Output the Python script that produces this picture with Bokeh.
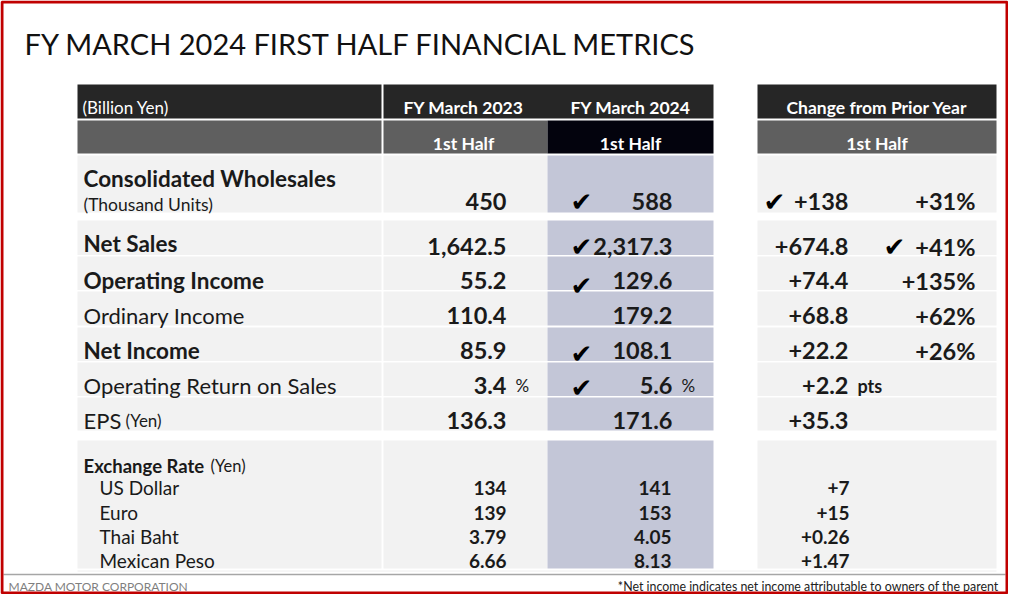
from bokeh.plotting import figure
from bokeh.models import ColumnDataSource, Range1d
from bokeh.core.properties import value
from bokeh.embed import file_html
from bokeh.resources import INLINE

# ---------------- data ----------------
title = "FY MARCH 2024 FIRST HALF FINANCIAL METRICS"
unit_label = "(Billion Yen)"
period_headers = ["FY March 2023", "FY March 2024", "Change from Prior Year"]
sub_header = "1st Half"

metrics = ["Consolidated Wholesales", "Net Sales", "Operating Income", "Ordinary Income",
           "Net Income", "Operating Return on Sales", "EPS"]
metric_bold = [True, True, True, False, True, False, False]
metric_notes = ["(Thousand Units)", "", "", "", "", "", "(Yen)"]
decimals = [0, 1, 1, 1, 1, 1, 1]
fy2023 = [450, 1642.5, 55.2, 110.4, 85.9, 3.4, 136.3]
fy2024 = [588, 2317.3, 129.6, 179.2, 108.1, 5.6, 171.6]
value_units = ["", "", "", "", "", "%", ""]
change_abs = [138, 674.8, 74.4, 68.8, 22.2, 2.2, 35.3]
change_units = ["", "", "", "", "", "pts", ""]
change_pct = [31, 41, 135, 62, 26, None, None]
check_2024 = [True, True, True, False, True, True, False]
check_abs = [True, False, False, False, False, False, False]
check_pct = [False, True, False, False, False, False, False]

fx_title = "Exchange Rate"
fx_note = "(Yen)"
currencies = ["US Dollar", "Euro", "Thai Baht", "Mexican Peso"]
fx_decimals = [0, 0, 2, 2]
fx2023 = [134, 139, 3.79, 6.66]
fx2024 = [141, 153, 4.05, 8.13]
fx_change = [7, 15, 0.26, 1.47]

footer_left = "MAZDA MOTOR CORPORATION"
footnote = "*Net income indicates net income attributable to owners of the parent"

# ---------------- layout (pixel coordinates) ----------------
FONT = "Lato"
CHECK_FONT = "DejaVu Sans"
DARK = "#1a1a1a"
COL_L = (77, 381)
COL_23 = (383, 547)
COL_24 = (547, 713)
COL_CH = (757, 996)
X_LABEL = 83
X_23 = 506
X_24 = 672
X_ABS = 848
X_PCT = 975
row_top = [155, 220, 256, 291, 327, 362, 397]
row_bot = [212, 254.5, 289.5, 325, 360.5, 395.5, 430]
label_base = [178, 243, 280, 315, 350, 385, 420]
value_base = [200.5, 246, 280, 315, 350, 385, 420]
check_base = [201, 246, 285, 0, 353, 387, 0]
fx_top, fx_bot = 440, 568
fx_base = [487, 512, 536, 560]

W, H = 1008, 594
p = figure(width=W, height=H, x_range=Range1d(0, W), y_range=Range1d(H, 0),
           output_backend="svg", toolbar_location=None, min_border=0)
p.axis.visible = False
p.grid.visible = False
p.outline_line_color = None
p.background_fill_color = "white"
p.border_fill_color = "white"


def boxes(lefts, rights, tops, bottoms, color):
    p.quad(left=lefts, right=rights, top=tops, bottom=bottoms,
           fill_color=color, line_color=None)


def txt(xs, ys, texts, size, bold=False, color=DARK, align="left", font=FONT):
    src = ColumnDataSource(dict(x=list(xs), y=list(ys), t=list(texts)))
    p.text(x="x", y="y", text="t", source=src, text_font=value(font),
           text_font_size=f"{size}px", text_font_style="bold" if bold else "normal",
           text_color=color, text_align=align, text_baseline="alphabetic")


def fmt(v, d, sign=False):
    s = f"{v:,.{d}f}"
    return ("+" + s) if sign else s


# title
txt([24], [43], [title], 29, color="#111111")

# header rows
boxes([COL_L[0], COL_23[0], COL_CH[0]], [COL_L[1], COL_24[1], COL_CH[1]],
      [84] * 3, [118] * 3, "#262626")
boxes([COL_L[0], COL_23[0], COL_CH[0]], [COL_L[1], COL_23[1], COL_CH[1]],
      [120] * 3, [153] * 3, "#5f5f5f")
boxes([COL_24[0]], [COL_24[1]], [120], [153], "#03030d")
txt([82], [107], [unit_label], 17, color="white")
hdr_x = [(COL_23[0] + COL_23[1]) / 2 - 2, (COL_24[0] + COL_24[1]) / 2, (COL_CH[0] + COL_CH[1]) / 2]
txt(hdr_x, [107] * 3, period_headers, 17.5, bold=True, color="white", align="center")
txt(hdr_x, [143] * 3, [sub_header] * 3, 17.5, bold=True, color="white", align="center")

# body row backgrounds
n = len(metrics)
boxes([COL_L[0]] * n, [COL_L[1]] * n, row_top, row_bot, "#f2f2f2")
boxes([COL_23[0]] * n, [COL_23[1]] * n, row_top, row_bot, "#f2f2f2")
boxes([COL_24[0]] * n, [COL_24[1]] * n, row_top, row_bot, "#c3c6d7")
boxes([COL_CH[0]] * n, [COL_CH[1]] * n, row_top, row_bot, "#f2f2f2")

# metric labels
bold_idx = [i for i in range(n) if metric_bold[i]]
reg_idx = [i for i in range(n) if not metric_bold[i]]
txt([X_LABEL] * len(bold_idx), [label_base[i] for i in bold_idx],
    [metrics[i] for i in bold_idx], 22.5, bold=True)
txt([X_LABEL] * len(reg_idx), [label_base[i] for i in reg_idx],
    [metrics[i] for i in reg_idx], 22)
txt([X_LABEL], [204], [metric_notes[0]], 17.5)
txt([125], [label_base[6]], [metric_notes[6]], 17)

# values
txt([X_23] * n, value_base, [fmt(v, d) for v, d in zip(fy2023, decimals)], 23.5, bold=True,
    align="right")
txt([X_24] * n, value_base, [fmt(v, d) for v, d in zip(fy2024, decimals)], 23.5, bold=True,
    align="right")
txt([X_ABS] * n, value_base, [fmt(v, d, True) for v, d in zip(change_abs, decimals)], 23.5,
    bold=True, align="right")
pct_idx = [i for i in range(n) if change_pct[i] is not None]
txt([X_PCT] * len(pct_idx), [value_base[i] for i in pct_idx],
    [f"+{change_pct[i]}%" for i in pct_idx], 23.5, bold=True, align="right")
u_idx = [i for i in range(n) if value_units[i]]
txt([X_23 + 9] * len(u_idx), [value_base[i] for i in u_idx], [value_units[i] for i in u_idx], 17)
txt([X_24 + 9] * len(u_idx), [value_base[i] for i in u_idx], [value_units[i] for i in u_idx], 17)
cu_idx = [i for i in range(n) if change_units[i]]
txt([X_ABS + 9] * len(cu_idx), [value_base[i] for i in cu_idx],
    [change_units[i] for i in cu_idx], 18, bold=True)

# check marks
c24 = [i for i in range(n) if check_2024[i]]
txt([581] * len(c24), [check_base[i] for i in c24], ["\u2714"] * len(c24), 26,
    align="center", font=CHECK_FONT, color="#000000")
ca = [i for i in range(n) if check_abs[i]]
txt([774] * len(ca), [check_base[i] for i in ca], ["\u2714"] * len(ca), 26,
    align="center", font=CHECK_FONT, color="#000000")
cp = [i for i in range(n) if check_pct[i]]
txt([894] * len(cp), [check_base[i] for i in cp], ["\u2714"] * len(cp), 26,
    align="center", font=CHECK_FONT, color="#000000")

# exchange rate block
boxes([COL_L[0], COL_23[0], COL_CH[0]], [COL_L[1], COL_23[1], COL_CH[1]],
      [fx_top] * 3, [fx_bot] * 3, "#f2f2f2")
boxes([COL_24[0]], [COL_24[1]], [fx_top], [fx_bot], "#c3c6d7")
txt([X_LABEL], [465], [fx_title], 18.5, bold=True)
txt([X_LABEL + 127], [465], [fx_note], 16.5)
m = len(currencies)
txt([99] * m, fx_base, currencies, 19)
txt([X_23] * m, fx_base, [fmt(v, d) for v, d in zip(fx2023, fx_decimals)], 19, bold=True,
    align="right")
txt([X_24 - 1] * m, fx_base, [fmt(v, d) for v, d in zip(fx2024, fx_decimals)], 19, bold=True,
    align="right")
txt([X_ABS + 1] * m, fx_base, [fmt(v, d, True) for v, d in zip(fx_change, fx_decimals)], 19,
    bold=True, align="right")

# footer
p.segment(x0=[77], y0=[570.5], x1=[996], y1=[570.5], line_color="#eeeeee", line_width=1)
p.segment(x0=[3], y0=[574], x1=[1005], y1=[574], line_color="#a6a6a6", line_width=1.5)
txt([8], [586], [footer_left], 12, color="#7f7f7f")
txt([998], [586], [footnote], 12.4, color="#222222", align="right")

# red frame
p.quad(left=[1.5], right=[W - 1.5], top=[1.5], bottom=[H - 1.5], fill_color=None,
       line_color="#c00000", line_width=3)

open("out.html", "w").write(file_html(p, INLINE))
